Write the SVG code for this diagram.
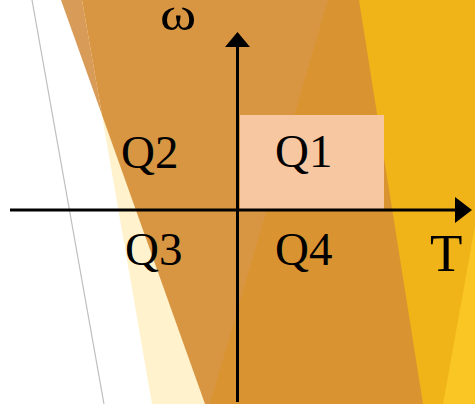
<svg xmlns="http://www.w3.org/2000/svg" width="475" height="404" viewBox="0 0 475 404">
  <style>
    .lbl { font-family: "Liberation Serif", "Times New Roman", serif; font-size: 47px; fill: #000; }
    .axis { stroke: #000; stroke-width: 3; fill: none; }
  </style>
  <defs>
    <marker id="arrH" markerUnits="userSpaceOnUse" markerWidth="17" markerHeight="26" refX="0" refY="13" orient="auto">
      <path d="M0,0 L17,13 L0,26 Z" fill="#000"/>
    </marker>
    <marker id="arrV" markerUnits="userSpaceOnUse" markerWidth="15" markerHeight="25" refX="0" refY="12.5" orient="auto">
      <path d="M0,0 L15,12.5 L0,25 Z" fill="#000"/>
    </marker>
  </defs>

  <g id="background">
    <rect x="0" y="0" width="475" height="404" fill="#FFFFFF"/>
    <line x1="32" y1="0" x2="104" y2="404" stroke="#BFBFBF" stroke-width="1.2"/>
    <polygon points="82,0 475,0 475,404 152,404" fill="#FFF2CC"/>
    <polygon points="61,0 82,0 102,115" fill="#D99B58"/>
    <polygon points="82,0 475,0 475,404 205,404 102,115" fill="#D99642"/>
    <polygon points="328,0 475,0 475,404 210,404" fill="#DA9331"/>
    <polygon points="359,0 475,0 475,404 423,404" fill="#F0B418"/>
    <polygon points="475,226 475,404 443,404" fill="#F9C623"/>
  </g>

  <g id="q1">
    <rect x="240" y="115" width="144" height="95" fill="#F7C7A1"/>
    <text class="lbl" x="275" y="167">Q1</text>
  </g>
  <g id="q2">
    <text class="lbl" x="121" y="168">Q2</text>
  </g>
  <g id="q3">
    <text class="lbl" x="125" y="265">Q3</text>
  </g>
  <g id="q4">
    <text class="lbl" x="275" y="265">Q4</text>
  </g>
  <g id="label-omega">
    <text class="lbl" transform="translate(160,30) scale(1.17,1)" x="0" y="0">ω</text>
  </g>
  <g id="label-T">
    <text class="lbl" x="430" y="271" style="font-size:53px">T</text>
  </g>

  <g id="connectors">
    <line class="axis" x1="10" y1="210" x2="455" y2="210" marker-end="url(#arrH)"/>
    <line class="axis" x1="237.5" y1="402" x2="237.5" y2="47" marker-end="url(#arrV)"/>
  </g>
</svg>
